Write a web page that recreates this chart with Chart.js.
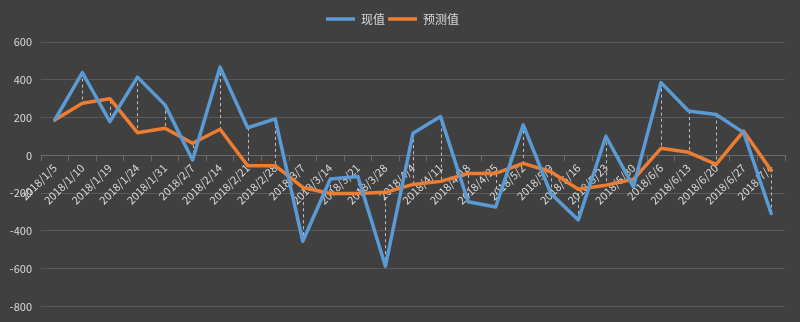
<!DOCTYPE html>
<html>
<head>
<meta charset="utf-8">
<title>现值 / 预测值</title>
<script src="https://cdn.jsdelivr.net/npm/chart.js@4/dist/chart.umd.min.js"></script>
<style>
  html, body { margin: 0; padding: 0; background: #404040; }
  #container { width: 800px; height: 322px; }
</style>
</head>
<body>
<div id="container">
  <canvas id="canvas"></canvas></div>
<script>

// weekly dates
var labels = ['2018/1/5', '2018/1/10', '2018/1/19', '2018/1/24', '2018/1/31', '2018/2/7', '2018/2/14',
  '2018/2/21', '2018/2/28', '2018/3/7', '2018/3/14', '2018/3/21', '2018/3/28', '2018/4/4', '2018/4/11',
  '2018/4/18', '2018/4/25', '2018/5/2', '2018/5/9', '2018/5/16', '2018/5/23', '2018/5/30', '2018/6/6',
  '2018/6/13', '2018/6/20', '2018/6/27', '2018/7/4'];

var actual = [187, 438, 178, 414, 267, -25, 467, 146, 193, -455, -125, -112, -587, 117, 205,
  -246, -274, 161, -202, -342, 101, -167, 385, 235, 216, 120, -308];

var forecast = [187, 276, 300, 120, 143, 64, 138, -55, -55, -170, -202, -202, -196, -154, -138,
  -96, -96, -43, -87, -180, -158, -127, 37, 16, -48, 128, -80];

var yTicks = [600, 400, 200, 0, -200, -400, -600, -800];

var textColor = '#d9d9d9';
var fontFamily = "'Noto Sans CJK SC', 'Noto Sans', sans-serif";

// dashed high-low lines between the two series at every date
var hiLoLines = {
  id: 'hiLoLines',
  beforeDatasetsDraw: function(chart) {
    var ctx = chart.ctx;
    var x = chart.scales.x, y = chart.scales.y;
    ctx.save();
    ctx.strokeStyle = '#bfbfbf';
    ctx.lineWidth = 1;
    ctx.setLineDash([3, 3]);
    for (var i = 0; i < labels.length; i++) {
      var px = Math.round(x.getPixelForValue(i)) + 0.5;
      ctx.beginPath();
      ctx.moveTo(px, y.getPixelForValue(actual[i]));
      ctx.lineTo(px, y.getPixelForValue(forecast[i]));
      ctx.stroke();
    }
    ctx.restore();
  }
};

// leave some room between the legend and the top gridline
var legendGap = {
  id: 'legendGap',
  beforeLayout: function(chart) {
    var legend = chart.legend;
    if (legend && !legend._gapPatched) {
      var fit = legend.fit;
      legend.fit = function() {
        fit.call(this);
        this.height += 7;
      };
      legend._gapPatched = true;
    }
  }
};

var ctx = document.getElementById('canvas').getContext('2d');
window.myLine = new Chart(ctx, {
  type: 'line',
  data: {
    labels: labels,
    datasets: [{
      label: '现值',
      data: actual,
      borderColor: '#5b9bd5',
      backgroundColor: '#5b9bd5',
      borderWidth: 3.5,
      borderJoinStyle: 'round',
      borderCapStyle: 'round',
      pointRadius: 0,
      tension: 0
    }, {
      label: '预测值',
      data: forecast,
      borderColor: '#ed7d31',
      backgroundColor: '#ed7d31',
      borderWidth: 3.5,
      borderJoinStyle: 'round',
      borderCapStyle: 'round',
      pointRadius: 0,
      tension: 0
    }]
  },
  options: {
    responsive: true,
    maintainAspectRatio: false,
    animation: false,
    layout: { padding: { left: 0, right: 15, top: 10, bottom: 15 } },
    plugins: {
      legend: {
        display: true,
        position: 'top',
        align: 'center',
        labels: {
          color: textColor,
          font: { family: fontFamily, size: 12 },
          usePointStyle: true,
          pointStyle: 'line',
          pointStyleWidth: 29,
          padding: 3
        }
      },
      tooltip: { enabled: false }
    },
    scales: {
      x: {
        position: { y: 0 },
        offset: true,
        z: 1,
        grid: {
          offset: true,
          drawOnChartArea: false,
          drawTicks: true,
          tickLength: 5,
          color: '#6b6b6b'
        },
        border: { display: true, color: '#6b6b6b' },
        ticks: {
          autoSkip: false,
          maxRotation: 45,
          minRotation: 45,
          padding: 1,
          color: textColor,
          font: { family: fontFamily, size: 11 }
        }
      },
      y: {
        min: -800,
        max: 600,
        afterFit: function(scale) { scale.width = 41; },
        afterBuildTicks: function(scale) {
          scale.ticks = yTicks.map(function(v) { return { value: v }; });
        },
        grid: { color: '#595959', drawTicks: false },
        border: { display: false },
        ticks: {
          padding: 9,
          color: textColor,
          font: { family: fontFamily, size: 11 }
        }
      }
    }
  },
  plugins: [hiLoLines, legendGap]
});

</script>

</body>
</html>
